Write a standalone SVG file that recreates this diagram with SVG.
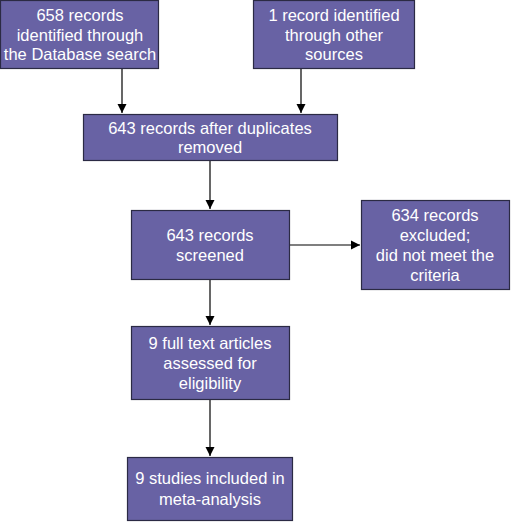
<svg xmlns="http://www.w3.org/2000/svg" width="511" height="522" viewBox="0 0 511 522">
<style>
.box{fill:#6862a4;stroke:#2b2a44;stroke-width:1.2}
.t{font-family:"Liberation Sans",Arial,sans-serif;font-size:16.5px;fill:#ffffff;text-anchor:middle}
.c{stroke:#000;stroke-width:1.2;fill:none}
</style>
<defs>
<marker id="ah" markerWidth="10" markerHeight="10" refX="9" refY="5" orient="auto" markerUnits="userSpaceOnUse">
<path d="M0,0.5 L9,5 L0,9.5 Z" fill="#000"/>
</marker>
</defs>
<rect width="511" height="522" fill="#ffffff"/>
<g id="connectors">
<line class="c" x1="122" y1="69" x2="122" y2="113" marker-end="url(#ah)"/>
<line class="c" x1="301" y1="69" x2="301" y2="113" marker-end="url(#ah)"/>
<line class="c" x1="210" y1="161" x2="210" y2="209" marker-end="url(#ah)"/>
<line class="c" x1="290" y1="245" x2="360" y2="245" marker-end="url(#ah)"/>
<line class="c" x1="210" y1="280" x2="210" y2="325" marker-end="url(#ah)"/>
<line class="c" x1="210" y1="400" x2="210" y2="456" marker-end="url(#ah)"/>
</g>
<g id="n1">
<rect class="box" x="0.5" y="0.5" width="158" height="68"/>
<text class="t" x="80" y="21">658 records</text>
<text class="t" x="80" y="40.5">identified through</text>
<text class="t" x="80" y="60">the Database search</text>
</g>
<g id="n2">
<rect class="box" x="253.5" y="0.5" width="161" height="68"/>
<text class="t" x="334" y="21">1 record identified</text>
<text class="t" x="334" y="40.5">through other</text>
<text class="t" x="334" y="60">sources</text>
</g>
<g id="n3">
<rect class="box" x="83.5" y="114.5" width="254" height="46"/>
<text class="t" x="210" y="134">643 records after duplicates</text>
<text class="t" x="210" y="153">removed</text>
</g>
<g id="n4">
<rect class="box" x="131.5" y="210.5" width="158" height="69"/>
<text class="t" x="210" y="241">643 records</text>
<text class="t" x="210" y="261">screened</text>
</g>
<g id="n5">
<rect class="box" x="361.5" y="200.5" width="148" height="89"/>
<text class="t" x="435" y="221">634 records</text>
<text class="t" x="435" y="241">excluded;</text>
<text class="t" x="435" y="261">did not meet the</text>
<text class="t" x="435" y="281">criteria</text>
</g>
<g id="n6">
<rect class="box" x="131.5" y="326.5" width="158" height="73"/>
<text class="t" x="210" y="349">9 full text articles</text>
<text class="t" x="210" y="369">assessed for</text>
<text class="t" x="210" y="389">eligibility</text>
</g>
<g id="n7">
<rect class="box" x="127.5" y="457.5" width="165" height="63"/>
<text class="t" x="210" y="484">9 studies included in</text>
<text class="t" x="210" y="505">meta-analysis</text>
</g>
</svg>
